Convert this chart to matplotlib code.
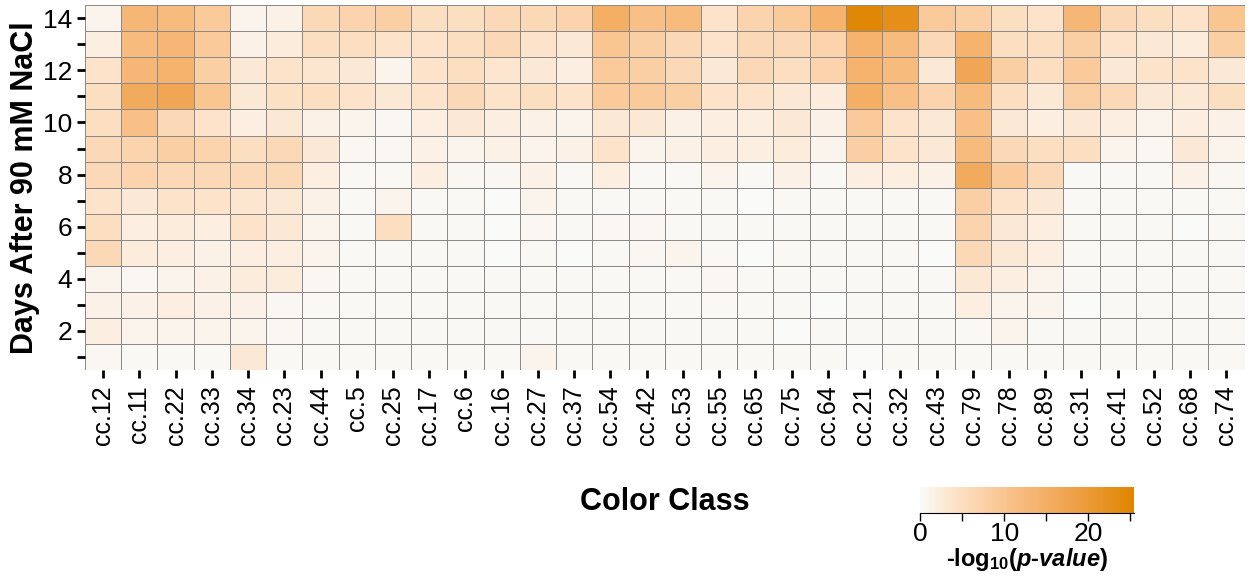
import numpy as np
import matplotlib
matplotlib.use("Agg")
import matplotlib.pyplot as plt
from matplotlib.colors import LinearSegmentedColormap

plt.rcParams["font.family"] = ["Liberation Sans", "DejaVu Sans"]
plt.rcParams["mathtext.fontset"] = "custom"
plt.rcParams["mathtext.rm"] = "Liberation Sans:bold"
plt.rcParams["mathtext.it"] = "Liberation Sans:bold:italic"

classes = ["cc.12","cc.11","cc.22","cc.33","cc.34","cc.23","cc.44","cc.5","cc.25","cc.17","cc.6","cc.16",
           "cc.27","cc.37","cc.54","cc.42","cc.53","cc.55","cc.65","cc.75","cc.64","cc.21","cc.32","cc.43",
           "cc.79","cc.78","cc.89","cc.31","cc.41","cc.52","cc.68","cc.74"]
days = list(range(1, 15))

# rows: day 14 down to day 1
d14 = [1,13,12,9,1,1.5,6,7,8,5,5,6,6,7,15,11, 12,4,7,9,14,25,23,9,8,5,4,13,6,5,4,10]
d13 = [2,12,13,9,1.5,2.5,5,5,4,4,5,6,4,3,10,8, 6,4,6,6,7,14,12,6,14,5,5,8,4,3,2.5,8]
d12 = [4,13,14,8,3,4,3.5,3,1,4,5,3.5,3,2,9,8, 6,3,6,5,7,14,12,3,17,8,5,9,3,4,4,3]
d11 = [5,16,17,10,3,4.5,5,4,3,4,6,4,5,4,9,9, 8,4,4,3,2.5,15,11,7,12,5,3,8,6,3,3,5]
d10 = [5,11,6,4,2,3,1.5,1,0.5,2,3,2,1.5,1,3,3, 1.5,2,2,3,1.5,9,4,3,11,3,2,3,2,1,2,1.5]
d9  = [6,7,8,7,5,6,3,0.5,0.5,1.5,1,1.5,1,1.5,4,1, 1.5,2,2,2.5,1,8,4,3,12,6,5,5,1,0.5,3,1]
d8  = [6,7,6,6,6,6,2,0.3,0.3,2,0.5,0.5,1.5,0.3,2,0.3, 0.3,1,0.3,1.5,0.3,2,2,1.5,16,9,6,0.3,0.3,0.3,1.5,0.5]
d7  = [4,3,4,4,3.5,3,1.5,0.3,1,0.3,0.3,0,1,0.3,0.3,0.3, 0.3,0.3,0,0.3,0.3,0.3,0.3,0.3,8,4,3,0.3,0.3,0.3,0.3,0.3]
d6  = [5,2,2.5,2,4,3,1,0.3,5,0.3,0.3,0,0.5,0.3,0.5,0.5, 0.3,0.3,0.3,0.3,0.3,0.3,0.3,0.3,7,3,2,0.3,0.3,0.3,0,0.3]
d5  = [6,2.5,2,1.5,2,2,1,0.3,0.3,0.3,0.3,0,0.3,0,0.3,0.5, 1,0.3,0,0.3,0.3,0.3,0.3,0,6,3,2,0.3,0.3,0.3,0.3,0.3]
d4  = [1,0.5,1,1.5,2.5,2.5,0.5,0.3,0.3,0.3,0.3,0.3,0.3,0.3,0.3,0.3, 0.3,0.5,0.3,0.3,0.3,0.3,0.3,0.3,3,2,1,0.3,0.3,0.3,0.3,0.3]
d3  = [1.5,1.5,2,1.5,1.5,0.5,0.3,0.3,0.3,0.3,0.3,0.3,0.3,0.3,0.3,0.3, 0.3,0.3,0.3,0.3,0,0.3,0.3,0.3,2,1,1,0,0.3,0.3,0.3,0.3]
d2  = [2,1,1,1,1,0.5,0.3,0.3,0.3,0.3,0.3,0.3,0.3,0.3,0.3,0.3, 0.3,0.3,0.3,0,0.3,0.3,0.3,0.3,0.3,1,0.3,0.3,0.3,0.3,0.3,0.3]
d1  = [0.5,0.3,0.3,0.3,3,0.3,0.3,0.3,0.3,0.3,0.3,0.3,1,0.3,0.3,0.3, 0.3,0.3,0.3,0.3,0.3,0,0.3,0.3,0.3,0.3,0.3,0.3,0.3,0.3,0.3,0.3]

vals = np.array([d1,d2,d3,d4,d5,d6,d7,d8,d9,d10,d11,d12,d13,d14])

cmap = LinearSegmentedColormap.from_list("o", [(0, "#fafaf8"), (0.15, "#fde4cb"), (0.45, "#f8bd82"),
                                                (0.7, "#f0a34e"), (1, "#df8500")])
vmax = 25.5

fig = plt.figure(figsize=(12.59, 5.8), dpi=100)
ax = fig.add_axes([0.0675, 0.362, 0.921, 0.629])
x = np.arange(len(classes) + 1) - 0.5
y = np.arange(len(days) + 1) + 0.5
ax.pcolormesh(x, y, vals, cmap=cmap, vmin=0, vmax=vmax, edgecolor="#8a8a8a", linewidth=0.6)
ax.set_xlim(-0.5, len(classes) - 0.5)
ax.set_ylim(0.5, 14.5)
for s in ax.spines.values():
    s.set_visible(False)
ax.set_xticks(range(len(classes)))
ax.set_xticklabels(classes, rotation=90, fontsize=18)
ax.set_yticks(days)
ax.set_yticklabels([str(d) if d % 2 == 0 else "" for d in days], fontsize=19)
ax.tick_params(axis="x", length=6, width=2, pad=5)
ax.tick_params(axis="y", length=6, width=2, pad=3)
ax.set_ylabel("Days After 90 mM NaCl", fontsize=22, fontweight="bold", labelpad=2)
fig.text(0.528, 0.135, "Color Class", fontsize=22, fontweight="bold", ha="center", va="center")

cax = fig.add_axes([0.731, 0.115, 0.17, 0.045])
cb = fig.colorbar(plt.cm.ScalarMappable(norm=plt.Normalize(0, vmax), cmap=cmap), cax=cax, orientation="horizontal")
cb.set_ticks([0, 5, 10, 15, 20, 25])
cb.set_ticklabels(["0", "", "10", "", "20", ""])
cb.outline.set_visible(False)
cax.spines["bottom"].set_visible(True)
cax.tick_params(labelsize=19, length=6, width=1, pad=0)
cb.set_label(r"-log$_{10}$(" + r"$\it{p}$" + "-" + r"$\it{value}$" + ")", fontsize=17, fontweight="bold", labelpad=0)
fig.savefig("out.png", dpi=100)
